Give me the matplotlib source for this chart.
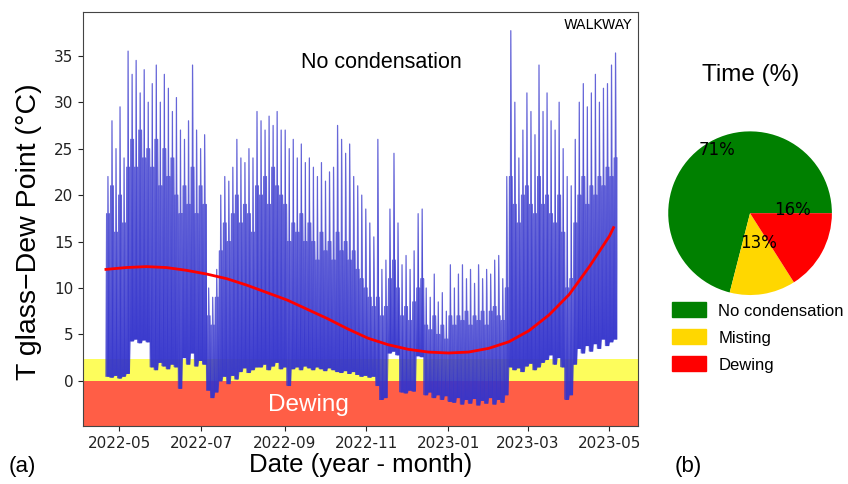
import numpy as np
import pandas as pd
import matplotlib
matplotlib.use("Agg")
import matplotlib.pyplot as plt
import matplotlib.dates as mdates
from matplotlib.patches import Patch

# ---------------- data ----------------
start_date = "2022-04-21"
step_days = 3
# per 3-day block: highest daily maximum and lowest daily minimum of T glass - dew point (°C)
daily_max = [22, 28, 25, 29.5, 24, 35.5, 33, 34.5, 31, 33.5, 30, 32, 34, 30, 33, 31.5,
             29, 30.5, 27, 26, 28, 34, 27, 25, 26.5, 10, 9, 12, 20, 22, 21.5, 23, 26,
             24, 23.5, 25, 24, 29, 28, 27, 28.5, 27.5, 29, 27, 27, 25, 26, 24, 25.5,
             23.5, 24, 23, 22, 23.5, 21.5, 22.5, 23, 27.5, 26, 24.5, 25.5, 22, 21, 20,
             18.5, 17, 15.5, 26, 12, 13, 18.5, 24.5, 17, 12.5, 13.5, 12, 14, 18, 18.5,
             10, 9, 11.5, 8.5, 9.5, 7.5, 12.5, 10, 11.5, 12.5, 11, 12, 10.5, 12.5, 11,
             12, 11.5, 13, 13.5, 11, 22, 37.7, 30, 24, 27, 31, 29, 26.5, 34, 29, 31,
             28, 27, 30, 25, 22, 21, 26, 30, 32, 29.5, 31, 33, 30, 31.5, 32, 34, 35.3]
daily_min = [0.5, 0.4, 0.6, 0.3, 0.5, 0.8, 4.3, 4.5, 4.1, 4.4, 4.2, 1.5, 1.2, 2.0, 1.6,
             1.3, 1.8, 1.5, -0.8, 2.5, 1.8, 3.0, 1.6, 2.2, 1.8, -1.0, -1.8, -1.2, 0.0,
             0.5, -0.3, 0.6, 0.2, 1.0, 1.4, 0.9, 1.2, 1.5, 1.5, 1.8, 1.2, 1.6, 2.0, 1.3,
             1.5, -0.5, 1.3, 1.5, 1.2, 1.6, 1.4, 1.2, 1.5, 1.3, 1.1, 1.4, 1.2, 1.0, 0.9,
             1.1, 0.8, 1.0, 0.7, 0.5, 0.6, 0.4, 0.5, -0.5, -2.0, -1.8, 3.0, 3.2, 2.8,
             -1.2, -1.3, -1.0, -1.1, 2.7, 2.6, -1.5, -1.2, -1.8, -1.5, -2.0, -1.6, -2.2,
             -2.3, -1.8, -2.5, -2.0, -2.4, -1.9, -2.6, -2.1, -2.4, -1.8, -2.5, -2.0,
             -2.3, -1.5, 1.5, 1.2, 1.4, 1.0, 1.6, 1.9, 1.2, 1.5, 2.0, 2.3, 2.8, 1.8,
             2.5, 1.5, -2.0, -1.5, 1.8, 3.5, 3.0, 3.8, 3.2, 4.0, 3.5, 4.5, 3.8, 4.2, 4.5]
# per 3-day block: typical daily peak of the other days (°C)
typical_peak = [18, 21, 16, 20, 17, 23, 26, 23, 27, 24, 25, 23, 26, 21, 25, 22, 24, 20,
                18, 21, 19, 23, 18, 21, 19, 7, 6, 9, 14, 17, 15, 18, 20, 17, 19, 18, 16,
                21, 20, 22, 19, 23, 21, 20,
                19, 15, 17, 16, 18, 15, 17, 15, 13, 16, 14, 15, 13, 16, 14, 15, 13, 14,
                12, 11, 10, 9, 8, 9, 7, 8, 11, 13, 10, 7, 8, 6.5, 8.5, 10, 11, 6, 5.5, 7,
                5, 6, 4.5, 7, 6, 7, 6.5, 7.5, 6, 7, 6.5, 7.5, 6, 7.5, 8, 7, 6.5, 10,
                22, 19, 17, 20, 21, 19, 18, 22, 19, 20, 18, 17, 20, 16, 10, 11, 17, 20,
                22, 19, 21, 20, 22, 21, 23, 22, 24]

# trend curve (fit), sampled every 15 days from start
trend_step_days = 15
trend_vals = [12.0, 12.2, 12.3, 12.2, 11.9, 11.5, 11.0, 10.3, 9.5, 8.7, 7.7, 6.7,
              5.6, 4.6, 3.9, 3.4, 3.1, 3.0, 3.1, 3.5, 4.2, 5.4, 7.1, 9.3, 12.3, 15.6]
trend_end = ("2023-05-04", 16.5)

misting_upper = 2.4

pie_labels = ["No condensation", "Misting", "Dewing"]
pie_values = [71, 13, 16]
pie_colors = ["#008000", "#ffd700", "#ff0000"]

# ---------------- figure ----------------
fig = plt.figure(figsize=(8.48, 4.84), dpi=100)
ax = fig.add_axes([0.098, 0.12, 0.654, 0.855])

n = min(len(daily_max), len(daily_min), len(typical_peak))
dates = pd.date_range(start_date, periods=n, freq=f"{step_days}D")
lo = np.array(daily_min[:n], dtype=float)
hi = np.array(daily_max[:n], dtype=float)
mid = np.maximum(np.minimum(hi, np.array(typical_peak[:n], dtype=float)), lo)

# one daily cycle per day: in each 3-day block the middle day reaches the block
# maximum, the other two the typical peak
day = pd.Timedelta(days=1)
halfday = pd.Timedelta(hours=12)
zx, zy, zbase = [], [], []
for d, a, b, m in zip(dates, lo, hi, mid):
    for k, peak in enumerate((m, b, m)):
        t0 = d + k * day
        zx += [t0, t0 + halfday]
        zy += [a, peak]
        zbase += [a, a]
zx = np.array(zx, dtype="datetime64[ns]")

xlim = (pd.Timestamp("2022-04-04"), pd.Timestamp("2023-05-22"))
ax.set_xlim(*xlim)
ax.set_ylim(-4.85, 39.7)

ax.axhspan(-10, 0, color="#ff5e46", zorder=0, lw=0)
ax.axhspan(0, misting_upper, color="#fdfd5c", zorder=0, lw=0)

blue = "#3434cc"
ax.fill_between(zx, zbase, zy, color=blue, alpha=0.85, lw=0, zorder=2)
ax.plot(zx, zy, color=blue, lw=0.9, alpha=0.75, zorder=2)

tdates = list(pd.date_range(start_date, periods=len(trend_vals), freq=f"{trend_step_days}D"))
tvals = list(trend_vals)
tdates.append(pd.Timestamp(trend_end[0]))
tvals.append(trend_end[1])
ax.plot(tdates, tvals, color="red", lw=2, zorder=3)

ax.xaxis.set_major_locator(mdates.MonthLocator(bymonth=[1, 3, 5, 7, 9, 11]))
ax.xaxis.set_major_formatter(mdates.DateFormatter("%Y-%m"))
ax.set_yticks(range(0, 40, 5))
ax.tick_params(labelsize=11, colors="#222222")
for s in ax.spines.values():
    s.set_color("#444444")

lab_font = ["Liberation Sans", "DejaVu Sans"]
ax.set_xlabel("Date (year - month)", fontsize=18.5, family=lab_font, labelpad=2)
ax.set_ylabel("T glass\u2212Dew Point (°C)", fontsize=20.5, family=lab_font)
ax.yaxis.set_label_coords(-0.074, 0.47)

ax.text(pd.Timestamp("2022-11-12"), 34.3, "No condensation", fontsize=15.5,
        family=lab_font, ha="center", va="center")
ax.text(pd.Timestamp("2022-09-19"), -2.6, "Dewing", fontsize=17.5, color="white",
        family=lab_font, ha="center", va="center")
ax.text(0.99, 0.985, "WALKWAY", transform=ax.transAxes, fontsize=10,
        ha="right", va="top")

fig.text(0.026, 0.037, "(a)", fontsize=16, family=lab_font, ha="center", va="center")
fig.text(0.812, 0.037, "(b)", fontsize=16, family=lab_font, ha="center", va="center")

# pie
pax = fig.add_axes([0.788, 0.39, 0.193, 0.339])
pax.pie(pie_values, colors=pie_colors, startangle=0, counterclock=True, radius=1)
pax.set_xlim(-1, 1)
pax.set_ylim(-1, 1)
pax.set_aspect("equal")
label_pos = [(-0.41, 0.77), (0.1, -0.37), (0.52, 0.04)]
for v, (px, py) in zip(pie_values, label_pos):
    pax.text(px, py, f"{v}%", fontsize=12, ha="center", va="center")
fig.text(0.885, 0.845, "Time (%)", fontsize=17.5, family=lab_font, ha="center", va="center")

handles = [Patch(color=c, label=l) for c, l in zip(pie_colors, pie_labels)]
fig.legend(handles=handles, loc="upper left", bbox_to_anchor=(0.785, 0.389),
           frameon=False, prop={"family": lab_font, "size": 12},
           handlelength=2.0, handleheight=1.0, labelspacing=0.65, handletextpad=0.75,
           borderaxespad=0)

fig.savefig("out.png", dpi=100)
